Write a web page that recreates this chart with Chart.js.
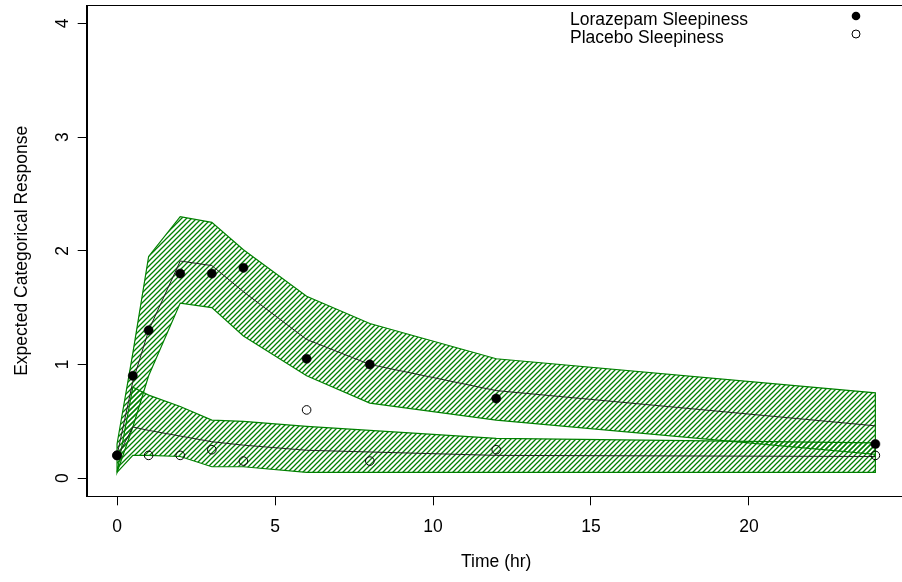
<!DOCTYPE html>
<html>
<head>
<meta charset="utf-8">
<script src="https://cdn.jsdelivr.net/npm/chart.js@4.4.1/dist/chart.umd.min.js"></script>
<style>
  html, body { margin: 0; padding: 0; background: #fff; overflow: hidden; }
  #wrap { width: 920px; height: 582px; position: relative; }
</style>
</head>
<body>
<div id="wrap"><canvas id="c"></canvas></div>
<script>
// ---- data ----
const times = [0, 0.5, 1, 2, 3, 4, 6, 8, 12, 24];
const lorazObs = [0.2, 0.9, 1.3, 1.8, 1.8, 1.85, 1.05, 1.0, 0.7, 0.3];
const placeboTimes = [0, 1, 2, 3, 4, 6, 8, 12, 24];
const placeboObs = [0.2, 0.2, 0.2, 0.25, 0.15, 0.6, 0.15, 0.25, 0.2];
const lorazMean = [0.2, 0.85, 1.3, 1.91, 1.87, 1.64, 1.22, 1.0, 0.77, 0.46];
const lorazUpper = [0.3, 1.1, 1.95, 2.3, 2.25, 2.01, 1.6, 1.36, 1.05, 0.75];
const lorazLower = [0.05, 0.45, 0.9, 1.54, 1.5, 1.25, 0.9, 0.66, 0.51, 0.21];
const placeboMean = [0.18, 0.45, 0.42, 0.37, 0.32, 0.29, 0.245, 0.23, 0.2, 0.19];
const placeboUpper = [0.05, 0.8, 0.73, 0.63, 0.51, 0.5, 0.455, 0.42, 0.35, 0.31];
const placeboLower = [0.05, 0.2, 0.2, 0.19, 0.1, 0.1, 0.05, 0.05, 0.05, 0.05];
const xTicks = [0, 5, 10, 15, 20];
const yTicks = [0, 1, 2, 3, 4];
const legendLabels = ['Lorazepam Sleepiness', 'Placebo Sleepiness'];
const xTitle = 'Time (hr)';
const yTitle = 'Expected Categorical Response';

// ---- helpers ----
const FONT = '"Liberation Sans", Arial, Helvetica, sans-serif';
const GREEN = 'rgb(0,128,0)';
function pts(xs, ys) { return xs.map((x, i) => ({ x: x, y: ys[i] })); }
function band(xs, up, lo) {
  const a = pts(xs, up);
  const b = pts(xs, lo).reverse();
  return a.concat(b, [a[0]]);
}
function hatch() {
  const s = 5;
  const c = document.createElement('canvas');
  c.width = s; c.height = s;
  const g = c.getContext('2d');
  g.strokeStyle = GREEN;
  g.lineWidth = 1.3;
  g.beginPath();
  g.moveTo(0, s); g.lineTo(s, 0);
  g.moveTo(-1, 1); g.lineTo(1, -1);
  g.moveTo(s - 1, s + 1); g.lineTo(s + 1, s - 1);
  g.stroke();
  return g.createPattern(c, 'repeat');
}
const pat = hatch();

const extras = {
  id: 'extras',
  afterDraw(chart) {
    const ctx = chart.ctx;
    const a = chart.chartArea;
    const ys = chart.scales.y;
    ctx.save();
    // box
    ctx.strokeStyle = '#000';
    ctx.lineWidth = 1;
    ctx.strokeRect(Math.round(a.left) + 0.5, Math.round(a.top) + 0.5,
                   Math.round(a.right - a.left), Math.round(a.bottom - a.top));
    // y tick labels (rotated, R style)
    ctx.fillStyle = '#000';
    ctx.font = '17.5px ' + FONT;
    ctx.textAlign = 'center';
    ctx.textBaseline = 'middle';
    yTicks.forEach(v => {
      const py = ys.getPixelForValue(v);
      ctx.save();
      ctx.translate(63, py);
      ctx.rotate(-Math.PI / 2);
      ctx.fillText(String(v), 0, 0);
      ctx.restore();
    });
    // legend
    ctx.textAlign = 'left';
    ctx.textBaseline = 'alphabetic';
    ctx.fillText(legendLabels[0], 570, 25);
    ctx.fillText(legendLabels[1], 570, 43);
    ctx.beginPath();
    ctx.arc(856, 16, 4.3, 0, Math.PI * 2);
    ctx.fill();
    ctx.beginPath();
    ctx.arc(856, 34, 4, 0, Math.PI * 2);
    ctx.lineWidth = 1;
    ctx.stroke();
    ctx.restore();
  }
};

new Chart(document.getElementById('c'), {
  type: 'scatter',
  data: {
    datasets: [
      { label: legendLabels[0], data: pts(times, lorazObs), showLine: false,
        pointRadius: 4.6, pointBackgroundColor: '#000', pointBorderColor: '#000', pointBorderWidth: 0.5, order: 0 },
      { label: legendLabels[1], data: pts(placeboTimes, placeboObs), showLine: false,
        pointRadius: 4.3, pointBackgroundColor: 'rgba(0,0,0,0)', pointBorderColor: '#000', pointBorderWidth: 1, order: 1 },
      { label: 'Lorazepam mean', data: pts(times, lorazMean), showLine: true, pointRadius: 0,
        borderColor: '#222', borderWidth: 1, fill: false, order: 2 },
      { label: 'Placebo mean', data: pts(times, placeboMean), showLine: true, pointRadius: 0,
        borderColor: '#222', borderWidth: 1, fill: false, order: 3 },
      { label: 'Lorazepam band', data: band(times, lorazUpper, lorazLower), showLine: true, pointRadius: 0,
        borderColor: GREEN, borderWidth: 1.2, backgroundColor: pat, fill: 'shape', order: 4 },
      { label: 'Placebo band', data: band(times, placeboUpper, placeboLower), showLine: true, pointRadius: 0,
        borderColor: GREEN, borderWidth: 1.2, backgroundColor: pat, fill: 'shape', order: 5 }
    ]
  },
  options: {
    responsive: true,
    maintainAspectRatio: false,
    animation: false,
    events: [],
    layout: { padding: { top: 1.7, right: 14.3, left: 0, bottom: 0 } },
    plugins: { legend: { display: false }, tooltip: { enabled: false } },
    scales: {
      x: {
        type: 'linear', min: -0.96, max: 24.96,
        afterBuildTicks: s => { s.ticks = xTicks.map(v => ({ value: v })); },
        afterFit: s => { s.height = 85.7; },
        grid: { drawOnChartArea: false, drawTicks: true, tickLength: 9, color: '#000', lineWidth: 1 },
        border: { display: true, color: '#000', width: 1 },
        ticks: { color: '#000', font: { family: FONT, size: 17.5 }, padding: 11, maxRotation: 0, autoSkip: false },
        title: { display: true, text: xTitle, color: '#000', font: { family: FONT, size: 17.5 }, padding: { top: 0, bottom: 9 } }
      },
      y: {
        type: 'linear', min: -0.16, max: 4.16,
        afterBuildTicks: s => { s.ticks = yTicks.map(v => ({ value: v })); },
        afterFit: s => { s.width = 86.7; },
        grid: { drawOnChartArea: false, drawTicks: true, tickLength: 9, color: '#000', lineWidth: 1 },
        border: { display: true, color: '#000', width: 1 },
        ticks: { display: false },
        title: { display: true, text: yTitle, color: '#000', font: { family: FONT, size: 17.5 }, padding: { top: 11.5, bottom: 0 } }
      }
    }
  },
  plugins: [extras]
});
</script>
</body>
</html>
